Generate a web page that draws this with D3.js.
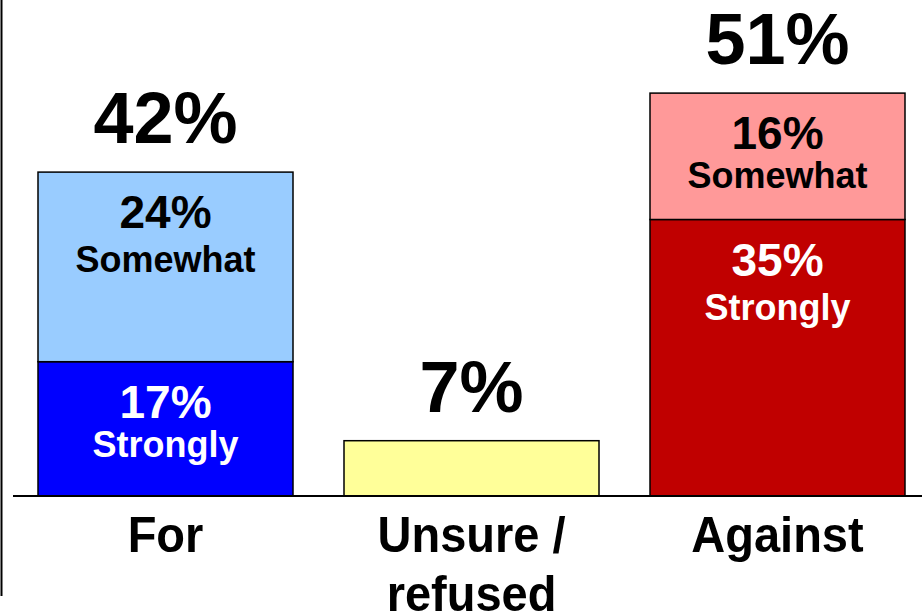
<!DOCTYPE html>
<html>
<head>
<meta charset="utf-8">
<script src="https://cdn.jsdelivr.net/npm/d3@7"></script>
<style>
    html, body { margin: 0; padding: 0; background: #fff; }
    svg { display: block; font-family: "Liberation Sans", Arial, sans-serif; font-weight: bold; }
</style>
</head>
<body>
<script>
var categories = ["For", "Unsure / refused", "Against"];
var categoryLines = [["For"], ["Unsure /", "refused"], ["Against"]];
var totals = ["42%", "7%", "51%"];
var strongly = [17, 0, 35];
var somewhat = [24, 0, 16];
var unsure = [0, 7, 0];

(function () {
    var width = 922,
        height = 613,
        baseY = 496;

    var svg = d3.select("body").append("svg")
        .attr("width", width)
        .attr("height", height);

    var x = d3.scaleBand()
        .domain(categories)
        .range([12.5, 930.5])
        .paddingInner(1 / 6)
        .paddingOuter(1 / 12);

    var y = d3.scaleLinear()
        .domain([0, 60])
        .range([baseY, baseY - 60 * 7.9]);

    // build segments
    var segs = [];
    categories.forEach(function (c, i) {
        var y0 = 0;
        if (strongly[i]) {
            segs.push({cat: c, y0: y0, y1: y0 + strongly[i], v: strongly[i], kind: "Strongly",
                fill: i === 0 ? "#0000ff" : "#c00000", text: "#fff"});
            y0 += strongly[i];
        }
        if (somewhat[i]) {
            segs.push({cat: c, y0: y0, y1: y0 + somewhat[i], v: somewhat[i], kind: "Somewhat",
                fill: i === 0 ? "#99ccff" : "#ff9999", text: "#000"});
            y0 += somewhat[i];
        }
        if (unsure[i]) {
            segs.push({cat: c, y0: y0, y1: y0 + unsure[i], v: unsure[i], kind: null,
                fill: "#ffff99", text: "#000"});
        }
    });

    svg.append("g").selectAll("rect")
        .data(segs)
        .enter().append("rect")
        .attr("x", function (d) { return x(d.cat); })
        .attr("y", function (d) { return y(d.y1); })
        .attr("width", x.bandwidth())
        .attr("height", function (d) { return y(d.y0) - y(d.y1); })
        .attr("fill", function (d) { return d.fill; })
        .attr("stroke", "#000")
        .attr("stroke-width", 1.5);

    // labels inside segments
    var lab = svg.append("g").selectAll("g")
        .data(segs.filter(function (d) { return d.kind; }))
        .enter().append("g")
        .attr("transform", function (d) {
            return "translate(" + (x(d.cat) + x.bandwidth() / 2) + "," + y(d.y1) + ")";
        })
        .attr("fill", function (d) { return d.text; })
        .attr("text-anchor", "middle");

    lab.append("text")
        .attr("y", 56)
        .attr("font-size", 46)
        .text(function (d) { return d.v + "%"; });

    lab.append("text")
        .attr("y", function (d) { return (y(d.y0) - y(d.y1)) < 150 ? 95 : 100; })
        .attr("font-size", 36)
        .text(function (d) { return d.kind; });

    // totals above bars
    svg.append("g").selectAll("text")
        .data(categories)
        .enter().append("text")
        .attr("x", function (d) { return x(d) + x.bandwidth() / 2; })
        .attr("y", function (d, i) {
            return y(strongly[i] + somewhat[i] + unsure[i]) - 29;
        })
        .attr("text-anchor", "middle")
        .attr("font-size", 72)
        .text(function (d, i) { return totals[i]; });

    // axes lines
    svg.append("line")
        .attr("x1", 13).attr("x2", width)
        .attr("y1", baseY).attr("y2", baseY)
        .attr("stroke", "#000").attr("stroke-width", 2);

    svg.append("line")
        .attr("x1", 1.5).attr("x2", 1.5)
        .attr("y1", 0).attr("y2", 596)
        .attr("stroke", "#000").attr("stroke-width", 2);

    // category labels (slightly tall glyphs, as in the source)
    var cl = svg.append("g").selectAll("text")
        .data(categories)
        .enter().append("text")
        .attr("transform", function (d) {
            return "translate(" + (x(d) + x.bandwidth() / 2) + ",552) scale(1,1.08)";
        })
        .attr("text-anchor", "middle")
        .attr("font-size", 47);

    cl.selectAll("tspan")
        .data(function (d, i) { return categoryLines[i]; })
        .enter().append("tspan")
        .attr("x", 0)
        .attr("dy", function (d, j) { return j === 0 ? 0 : 55; })
        .text(function (d) { return d; });
}());
</script>
</body>
</html>
